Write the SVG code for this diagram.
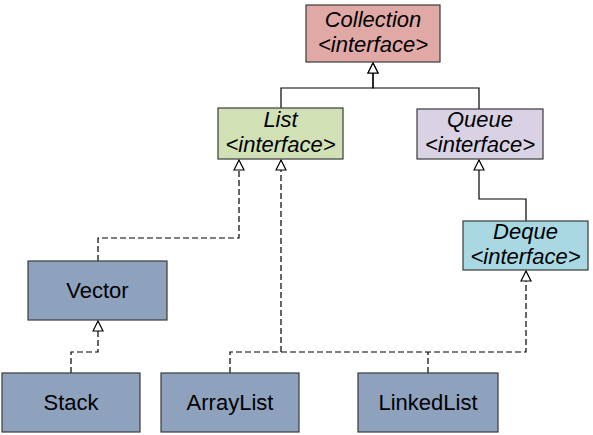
<svg xmlns="http://www.w3.org/2000/svg" width="593" height="435" viewBox="0 0 593 435">
<defs>
<style>
.box{stroke:#3a3a3a;stroke-width:1.2}
.t{font-family:"Liberation Sans",Arial,sans-serif;font-size:22px;fill:#000;text-anchor:middle}
.i{font-style:italic}
.c{fill:none;stroke:#000;stroke-width:1.2}
.d{stroke-dasharray:6,3}
</style>
<marker id="tri" markerUnits="userSpaceOnUse" markerWidth="12" markerHeight="12" viewBox="0 0 12 12" refX="11" refY="6" orient="auto">
<path d="M1,1 L11,6 L1,11 z" fill="#fff" stroke="#000" stroke-width="1.2"/>
</marker>
</defs>
<rect width="593" height="435" fill="#fff"/>
<g id="connectors">
<path class="c" d="M281,108 V88 H373 V63" marker-end="url(#tri)"/>
<path class="c" d="M479,109 V88 H373 V63" marker-end="url(#tri)"/>
<path class="c" d="M526,221 V199 H479 V160" marker-end="url(#tri)"/>
<path class="c d" d="M98,261 V238 H239 V160" marker-end="url(#tri)"/>
<path class="c d" d="M71,373 V352 H98 V321" marker-end="url(#tri)"/>
<path class="c d" d="M230,373 V352 H526 V271" marker-end="url(#tri)"/>
<path class="c d" d="M281,352 V160" marker-end="url(#tri)"/>
<path class="c d" d="M428,373 V352"/>
</g>
<g id="collection">
<rect class="box" x="306" y="5" width="134" height="57" fill="#E0A9A5"/>
<text class="t i" x="373" y="27">Collection</text>
<text class="t i" x="373" y="52">&lt;interface&gt;</text>
</g>
<g id="list">
<rect class="box" x="218" y="108" width="125" height="51" fill="#D2E0B6"/>
<text class="t i" x="280.5" y="127">List</text>
<text class="t i" x="280.5" y="152">&lt;interface&gt;</text>
</g>
<g id="queue">
<rect class="box" x="417" y="109" width="126" height="50" fill="#D9D2E4"/>
<text class="t i" x="480" y="127">Queue</text>
<text class="t i" x="480" y="152">&lt;interface&gt;</text>
</g>
<g id="deque">
<rect class="box" x="463" y="221" width="125" height="49" fill="#A9D8E3"/>
<text class="t i" x="525.5" y="239">Deque</text>
<text class="t i" x="525.5" y="264">&lt;interface&gt;</text>
</g>
<g id="vector">
<rect class="box" x="28" y="261" width="139" height="59" fill="#8EA2BE"/>
<text class="t" x="97.5" y="298">Vector</text>
</g>
<g id="stack">
<rect class="box" x="2" y="373" width="138" height="59" fill="#8EA2BE"/>
<text class="t" x="71" y="410">Stack</text>
</g>
<g id="arraylist">
<rect class="box" x="161" y="373" width="138" height="59" fill="#8EA2BE"/>
<text class="t" x="230" y="410">ArrayList</text>
</g>
<g id="linkedlist">
<rect class="box" x="358" y="373" width="140" height="59" fill="#8EA2BE"/>
<text class="t" x="428" y="410">LinkedList</text>
</g>
</svg>
